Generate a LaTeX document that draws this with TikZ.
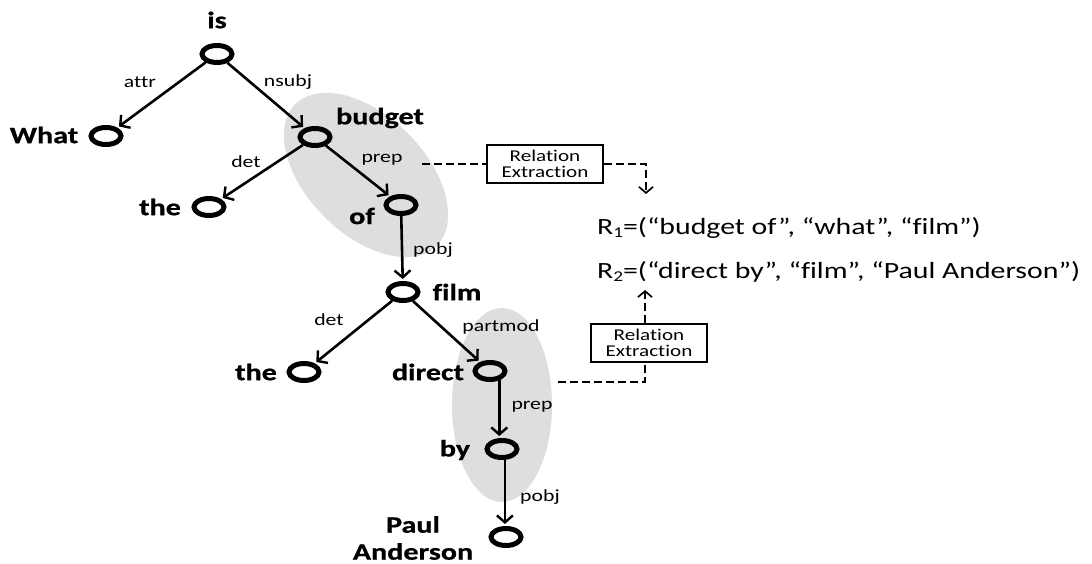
\documentclass[tikz,border=0pt]{standalone}
\usepackage{fontspec}
\setmainfont{Carlito}[FakeStretch=1.28,Ligatures=NoCommon,BoldFeatures={FakeBold=0.8}]
\usetikzlibrary{shapes.geometric,arrows.meta}
\tikzset{
  word/.style={ellipse,draw,line width=5pt,minimum width=30pt,minimum height=17pt,inner sep=0pt},
  wlabel/.style={font=\bfseries\fontsize{23.5}{27}\selectfont,inner sep=0pt,align=center},
  dep/.style={font=\fontsize{17}{18}\selectfont,inner sep=0pt},
  arc/.style={line width=2.6pt,-{Straight Barb[length=7pt,width=16pt,line width=2.4pt]},shorten >=2pt},
  group/.style={fill=black!13,draw=none},
  rebox/.style={draw,line width=1.6pt,font=\fontsize{16.5}{16}\selectfont,align=center,
                minimum width=116pt,minimum height=38pt,inner sep=1pt},
  link/.style={line width=1.7pt,dash pattern=on 8pt off 4pt},
  linkarrow/.style={link,-{Straight Barb[length=6pt,width=14pt,line width=1.7pt]}},
  rel/.style={font=\fontsize{23.3}{27}\selectfont,inner sep=0pt,anchor=west}
}
\newcommand{\subidx}[1]{\raisebox{-3pt}{\fontsize{15}{15}\selectfont #1}}
\begin{document}
\begin{tikzpicture}[x=1pt,y=-1pt]
\useasboundingbox (0,0) rectangle (1092,564);

% shaded groups of words that form a relation
\fill[group,rotate around={-45:(366,175)}] (366,175) ellipse [x radius=100,y radius=59];
\fill[group] (502,405) ellipse [x radius=50,y radius=97];

% dependency tree nodes
\node[word] (is)     at (217,54)  {};
\node[word] (what)   at (106,136) {};
\node[word] (budget) at (315,137) {};
\node[word] (the1)   at (209,207) {};
\node[word] (of)     at (401,205) {};
\node[word] (film)   at (403,292) {};
\node[word] (the2)   at (304,372) {};
\node[word] (direct) at (490,371) {};
\node[word] (by)     at (502,449) {};
\node[word] (paul)   at (506,537) {};

% word labels
\node[wlabel] (lis)     at (217,20)  {is};
\node[wlabel] (lwhat)   at (44,135)  {What};
\node[wlabel] (lbudget) at (380,118) {budget};
\node[wlabel] (lthe1)   at (160,207) {the};
\node[wlabel] (lof)     at (362,216) {of};
\node[wlabel] (lfilm)   at (457,292) {film};
\node[wlabel] (lthe2)   at (256,372) {the};
\node[wlabel] (ldirect) at (428,372) {direct};
\node[wlabel] (lby)     at (455,450) {by};
\node[wlabel] (lpaul)   at (413,538) {Paul\\Anderson};

% dependency arcs
\draw[arc] (is) -- (what);
\draw[arc] (is) -- (budget);
\draw[arc] (budget) -- (the1);
\draw[arc] (budget) -- (of);
\draw[arc] (of) -- (film);
\draw[arc] (film) -- (the2);
\draw[arc] (film) -- (direct);
\draw[arc] (direct.-45) -- (direct.-45 |- by.north);
\draw[arc] (by.-75) -- (by.-75 |- paul.north);

% arc labels
\node[dep] (dattr)    at (140,82)  {attr};
\node[dep] (dnsubj)   at (288,82)  {nsubj};
\node[dep] (ddet1)    at (246,162) {det};
\node[dep] (dprep1)   at (382,160) {prep};
\node[dep] (dpobj1)   at (433,250) {pobj};
\node[dep] (ddet2)    at (329,320) {det};
\node[dep] (dpartmod) at (501,327) {partmod};
\node[dep] (dprep2)   at (532,407) {prep};
\node[dep] (dpobj2)   at (540,497) {pobj};

% relation extraction steps
\node[rebox] (box1) at (545,164) {Relation\\Extraction};
\node[rebox] (box2) at (649,343) {Relation\\Extraction};

% extracted relations
\node[rel] (r1) at (597,228) {R\subidx{1}=(“budget of”, “what”, “film”)};
\node[rel] (r2) at (597,272) {R\subidx{2}=(“direct by”, “film”, “Paul Anderson”)};

% dashed flow from the groups to the relations
\coordinate (s1) at (422,164);
\coordinate (c1) at (646,164);
\coordinate (t1) at (646,194);
\draw[link] (s1) -- (box1.west);
\draw[linkarrow] (box1.east) -- (c1) -- (t1);

\coordinate (s2) at (558,382);
\coordinate (c2) at (645,382);
\coordinate (t2) at (645,290);
\draw[link] (s2) -- (c2) -- (c2 |- box2.south);
\draw[linkarrow] (c2 |- box2.north) -- (t2);
\end{tikzpicture}
\end{document}
